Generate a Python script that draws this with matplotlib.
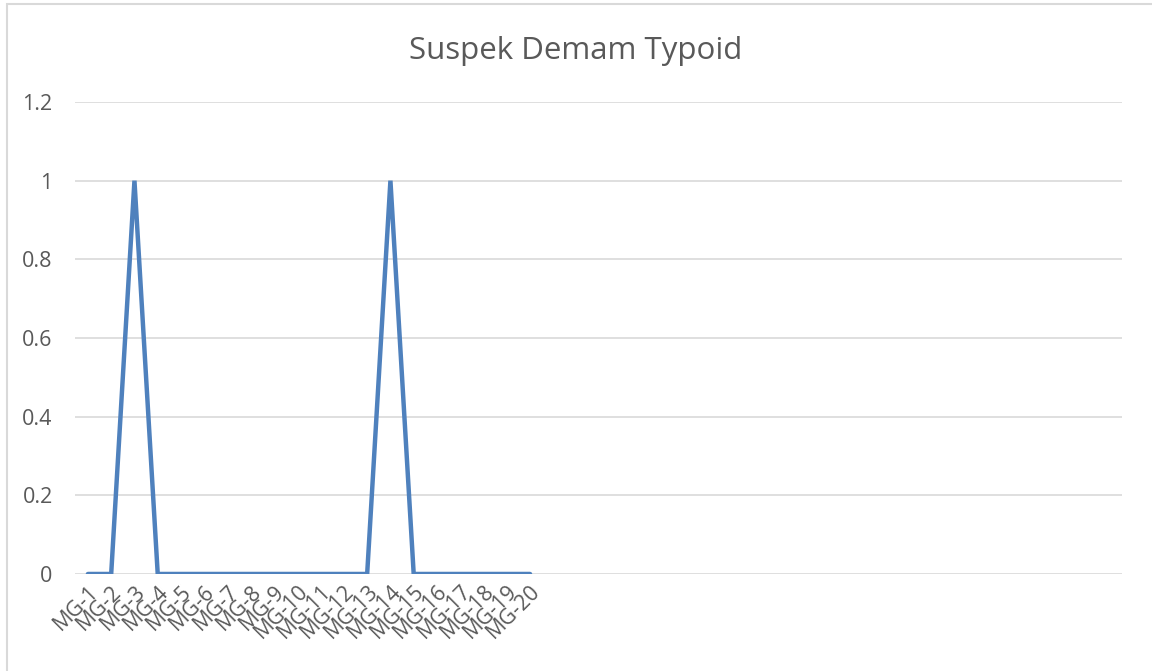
import matplotlib.pyplot as plt
from matplotlib.patches import Rectangle

labels = ["MG-%d" % i for i in range(1, 21)]
values = [0, 0, 1, 0, 0, 0, 0, 0, 0, 0, 0, 0, 0, 1, 0, 0, 0, 0, 0, 0]
n_slots = 45  # axis keeps room for empty categories

plt.rcParams['font.family'] = ['Open Sans', 'DejaVu Sans']
fig = plt.figure(figsize=(11.52, 6.71), dpi=100)
ax = fig.add_axes([0.065, 0.1446, 0.909, 0.7034])

x = list(range(len(labels)))
ax.plot(x, values, color="#4f81bd", linewidth=3.2, solid_capstyle="round",
        solid_joinstyle="miter")

ax.set_xlim(-0.56, n_slots - 0.56)
ax.set_ylim(0, 1.2)
ax.set_yticks([0, 0.2, 0.4, 0.6, 0.8, 1, 1.2])
ax.set_yticklabels(["0", "0.2", "0.4", "0.6", "0.8", "1", "1.2"])
ax.set_xticks(x)
ax.set_xticklabels(labels, rotation=45, ha="right", rotation_mode="anchor")
ax.tick_params(axis="both", length=0, labelsize=15.5, colors="#595959")
ax.tick_params(axis="y", pad=16)
ax.tick_params(axis="x", pad=5)
ax.grid(axis="y", color="#d9d9d9", linewidth=1.2)
ax.set_axisbelow(True)
for s in ax.spines.values():
    s.set_visible(False)

fig.text(0.5, 0.924, "Suspek Demam Typoid", ha="center", va="center",
         fontsize=22.5, color="#595959")
fig.patches.append(Rectangle((0.006, -0.01), 1.0, 1.004, transform=fig.transFigure,
                             fill=False, edgecolor="#d9d9d9", linewidth=1.5))

fig.savefig("out.png", dpi=100)
